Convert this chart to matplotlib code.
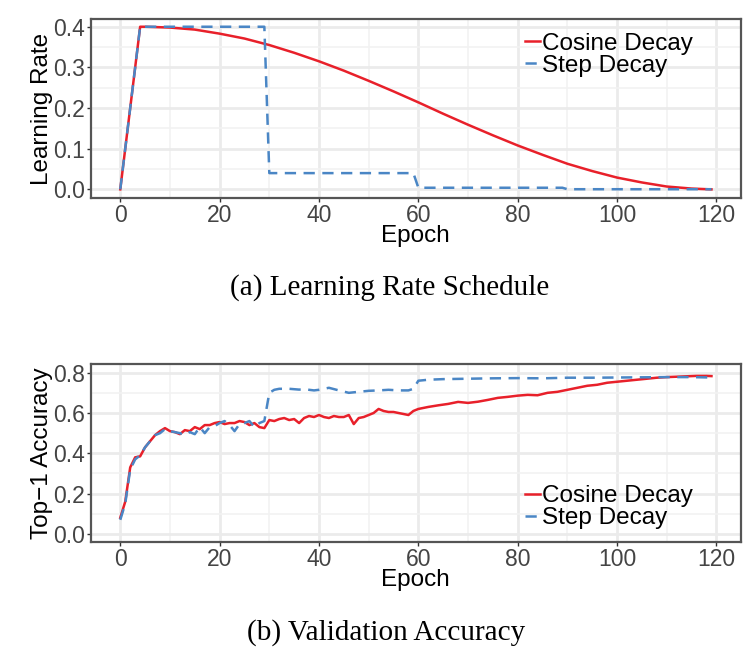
import matplotlib

matplotlib.use("Agg")
import matplotlib.pyplot as plt
from matplotlib.ticker import MultipleLocator

# (a) learning rate schedule
lr_epochs = [0, 4, 5, 10, 15, 20, 25, 30, 35, 40, 45, 50, 55, 60, 65, 70, 75, 80,
             85, 90, 95, 100, 105, 110, 115, 119]
lr_cosine = [0.0, 0.4, 0.4, 0.398, 0.393, 0.383, 0.371, 0.355, 0.336, 0.315, 0.292,
             0.267, 0.241, 0.214, 0.186, 0.159, 0.133, 0.108, 0.085, 0.063, 0.045,
             0.029, 0.017, 0.007, 0.002, 0.0]

step_epochs = [0, 4, 29, 30, 59, 60, 89, 90, 119]
lr_step = [0.0, 0.4, 0.4, 0.04, 0.04, 0.004, 0.004, 0.0004, 0.0004]

# (b) validation accuracy
acc_cos_epochs = list(range(0, 61)) + [62, 64, 66, 68, 70, 72, 74, 76, 78, 80, 82, 84,
                                       86, 88, 90, 92, 94, 96, 98, 100, 102, 104, 106,
                                       108, 110, 112, 114, 116, 118, 119]
acc_cosine = [0.08, 0.16, 0.33, 0.38, 0.385, 0.43, 0.46, 0.49, 0.51, 0.525,
              0.51, 0.505, 0.495, 0.515, 0.51, 0.53, 0.52, 0.54, 0.54, 0.55,
              0.555, 0.545, 0.55, 0.55, 0.56, 0.555, 0.54, 0.55, 0.53, 0.525,
              0.565, 0.56, 0.57, 0.575, 0.565, 0.57, 0.55, 0.575, 0.585, 0.58,
              0.59, 0.58, 0.575, 0.585, 0.58, 0.58, 0.59, 0.545, 0.575, 0.58,
              0.59, 0.60, 0.62, 0.61, 0.605, 0.605, 0.60, 0.595, 0.59, 0.61,
              0.62, 0.63, 0.638, 0.645, 0.655, 0.65, 0.656, 0.665, 0.675, 0.68,
              0.686, 0.69, 0.688, 0.70, 0.705, 0.715, 0.725, 0.735, 0.74, 0.75,
              0.755, 0.76, 0.765, 0.77, 0.775, 0.778, 0.78, 0.782, 0.784, 0.784,
              0.783]

acc_step_epochs = list(range(0, 41)) + [42, 44, 46, 48, 50, 52, 54, 56, 58, 59, 60, 62,
                                        65, 70, 75, 80, 85, 90, 95, 100, 105, 110, 115,
                                        119]
acc_step = [0.07, 0.15, 0.32, 0.37, 0.39, 0.43, 0.46, 0.49, 0.50, 0.52,
            0.51, 0.505, 0.50, 0.49, 0.505, 0.495, 0.53, 0.50, 0.53, 0.535,
            0.55, 0.56, 0.54, 0.51, 0.545, 0.55, 0.56, 0.53, 0.55, 0.56,
            0.70, 0.715, 0.72, 0.72, 0.72, 0.718, 0.716, 0.718, 0.715, 0.712,
            0.715, 0.725, 0.712, 0.70, 0.705, 0.71, 0.712, 0.715, 0.712, 0.712,
            0.72, 0.76, 0.765, 0.768, 0.77, 0.772, 0.773, 0.772, 0.775, 0.775,
            0.776, 0.777, 0.778, 0.778, 0.776]

labels = ["Cosine Decay", "Step Decay"]

RED = "#E8202A"
BLUE = "#4A86C5"
SANS = ["Liberation Sans", "DejaVu Sans"]
SERIF = ["Liberation Serif", "DejaVu Serif"]


def style_axes(ax, ymajor, yminor):
    ax.set_facecolor("white")
    ax.xaxis.set_major_locator(MultipleLocator(20))
    ax.xaxis.set_minor_locator(MultipleLocator(10))
    ax.yaxis.set_major_locator(MultipleLocator(ymajor))
    ax.yaxis.set_minor_locator(MultipleLocator(yminor))
    ax.grid(True, which="major", color="#EBEBEB", linewidth=2.0, zorder=0)
    ax.grid(True, which="minor", color="#F2F2F2", linewidth=1.2, zorder=0)
    ax.set_axisbelow(True)
    for sp in ax.spines.values():
        sp.set_color("#555555")
        sp.set_linewidth(1.6)
    ax.tick_params(which="major", length=3, width=1, color="#333333",
                   labelsize=16.5, labelcolor="#444444", pad=1)
    ax.tick_params(which="minor", length=0)
    for t in ax.get_xticklabels() + ax.get_yticklabels():
        t.set_family(SANS)
    ax.set_xlim(-5.95, 124.95)


def add_legend(ax, ycenter):
    # ggplot-like legend: short keys, rows close together
    return ax.legend(labels, loc="center left", bbox_to_anchor=(0.668, ycenter),
                     frameon=False, prop={"family": SANS, "size": 17.5},
                     handlelength=0.6, handletextpad=0.1, labelspacing=0.0,
                     borderpad=0, borderaxespad=0)


def main() -> int:
    fig = plt.figure(figsize=(7.54, 6.58), dpi=100)

    ax_lr = fig.add_axes([0.1203, 0.6986, 0.8625, 0.2725])
    ax_acc = fig.add_axes([0.1203, 0.1763, 0.8625, 0.2705])

    ax_lr.plot(lr_epochs, lr_cosine, color=RED, linewidth=1.8, zorder=3)
    ax_lr.plot(step_epochs, lr_step, color=BLUE, linewidth=1.8, dashes=(4.5, 3),
               zorder=4)
    style_axes(ax_lr, 0.1, 0.05)
    ax_lr.set_ylim(-0.022, 0.419)
    ax_lr.set_xlabel("Epoch", family=SANS, fontsize=17.5, labelpad=-1)
    ax_lr.set_ylabel("Learning Rate", family=SANS, fontsize=17.5, labelpad=0)
    add_legend(ax_lr, 0.80)

    ax_acc.plot(acc_cos_epochs, acc_cosine, color=RED, linewidth=1.8, zorder=3)
    ax_acc.plot(acc_step_epochs, acc_step, color=BLUE, linewidth=1.8, dashes=(4.5, 3),
                zorder=4)
    style_axes(ax_acc, 0.2, 0.1)
    ax_acc.set_ylim(-0.04, 0.843)
    ax_acc.set_xlabel("Epoch", family=SANS, fontsize=17.5, labelpad=-1)
    ax_acc.set_ylabel("Top\u22121 Accuracy", family=SANS, fontsize=17.5, labelpad=0)
    add_legend(ax_acc, 0.195)

    fig.text(0.517, 0.5623, "(a) Learning Rate Schedule", ha="center", va="center",
             family=SERIF, fontsize=21)
    fig.text(0.512, 0.038, "(b) Validation Accuracy", ha="center", va="center",
             family=SERIF, fontsize=21)

    fig.savefig("out.png", dpi=100)
    return 0


if __name__ == "__main__":
    raise SystemExit(main())
